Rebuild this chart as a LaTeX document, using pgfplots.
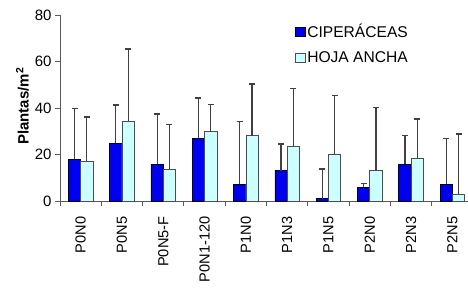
\documentclass[border=0pt]{standalone}
\usepackage{pgfplots}
\pgfplotsset{compat=1.18}
\usepackage{fontspec}
\setmainfont{Liberation Sans}
\definecolor{cip}{RGB}{0,0,240}
\definecolor{hoja}{RGB}{204,255,255}
\definecolor{axgray}{RGB}{90,90,90}
\begin{document}
\begin{tikzpicture}
\begin{axis}[
  scale only axis,
  width=413pt, height=186pt,
  at={(0,0)}, anchor=south west,
  xmin=-0.5, xmax=9.5,
  ymin=0, ymax=80,
  ytick={0,20,40,60,80},
  xtick={-0.5,0.5,...,9.5},
  x tick label as interval,
  xticklabels={P0N0,P0N5,P0N5-F,P0N1-120,P1N0,P1N3,P1N5,P2N0,P2N3,P2N5},
  axis x line*=bottom, axis y line*=left,
  tick align=outside,
  major tick length=5pt,
  tick style={color=axgray, line width=1pt},
  axis line style={draw=axgray, line width=0.9pt},
  xticklabel shift=7pt,
  xticklabel style={rotate=90, anchor=east, font=\fontsize{14.6}{17}\selectfont},
  yticklabel style={font=\fontsize{15}{17}\selectfont},
  /pgf/number format/assume math mode=true,
  ylabel={\textbf{Plantas/m\textsuperscript{2}}},
  ylabel style={at={(axis description cs:-0.091,0.51)}, anchor=center, font=\fontsize{15}{17}\selectfont},
  ybar=0pt, bar width=12.3pt,
  legend style={at={(axis cs:5.19,77)}, anchor=north west, draw=none, fill=none,
    font=\fontsize{15.6}{18}\selectfont, row sep=8pt, inner sep=0pt,
    legend cell align=left},
]
\addplot[fill=cip, draw=black, line width=0.6pt,
  error bars/.cd, y dir=plus, y explicit, error mark=-,
  error bar style={draw=black!75, line width=1.2pt},
  error mark options={rotate=90, draw=black!75, line width=1.5pt, mark size=3pt},
  /pgfplots/legend image code/.code={\draw[fill=cip, draw=black, line width=0.6pt] (0pt,-4.5pt) rectangle (9.5pt,4.5pt);}
] coordinates {
  (0,18.0) +- (0,21.8)
  (1,24.8) +- (0,16.4)
  (2,15.9) +- (0,21.6)
  (3,26.9) +- (0,17.3)
  (4,7.1) +- (0,27.2)
  (5,13.1) +- (0,11.4)
  (6,1.0) +- (0,12.8)
  (7,5.9) +- (0,1.7)
  (8,15.9) +- (0,12.2)
  (9,7.1) +- (0,19.7)
};
\addlegendentry{CIPERÁCEAS}
\addplot[fill=hoja, draw=black!70, line width=0.6pt,
  error bars/.cd, y dir=plus, y explicit, error mark=-,
  error bar style={draw=black!75, line width=1.2pt},
  error mark options={rotate=90, draw=black!75, line width=1.5pt, mark size=3pt},
  /pgfplots/legend image code/.code={\draw[fill=hoja, draw=black!70, line width=0.6pt] (0pt,-4.5pt) rectangle (9.5pt,4.5pt);}
] coordinates {
  (0,17.0) +- (0,19.2)
  (1,34.2) +- (0,31.2)
  (2,13.7) +- (0,19.3)
  (3,29.8) +- (0,11.8)
  (4,28.1) +- (0,22.2)
  (5,23.6) +- (0,24.8)
  (6,19.9) +- (0,25.5)
  (7,13.1) +- (0,27.1)
  (8,18.2) +- (0,17.1)
  (9,2.9) +- (0,25.9)
};
\addlegendentry{HOJA ANCHA}
\end{axis}
\pgfresetboundingbox
\path (-60pt,-88pt) rectangle (408pt,201pt);
\end{tikzpicture}
\end{document}
